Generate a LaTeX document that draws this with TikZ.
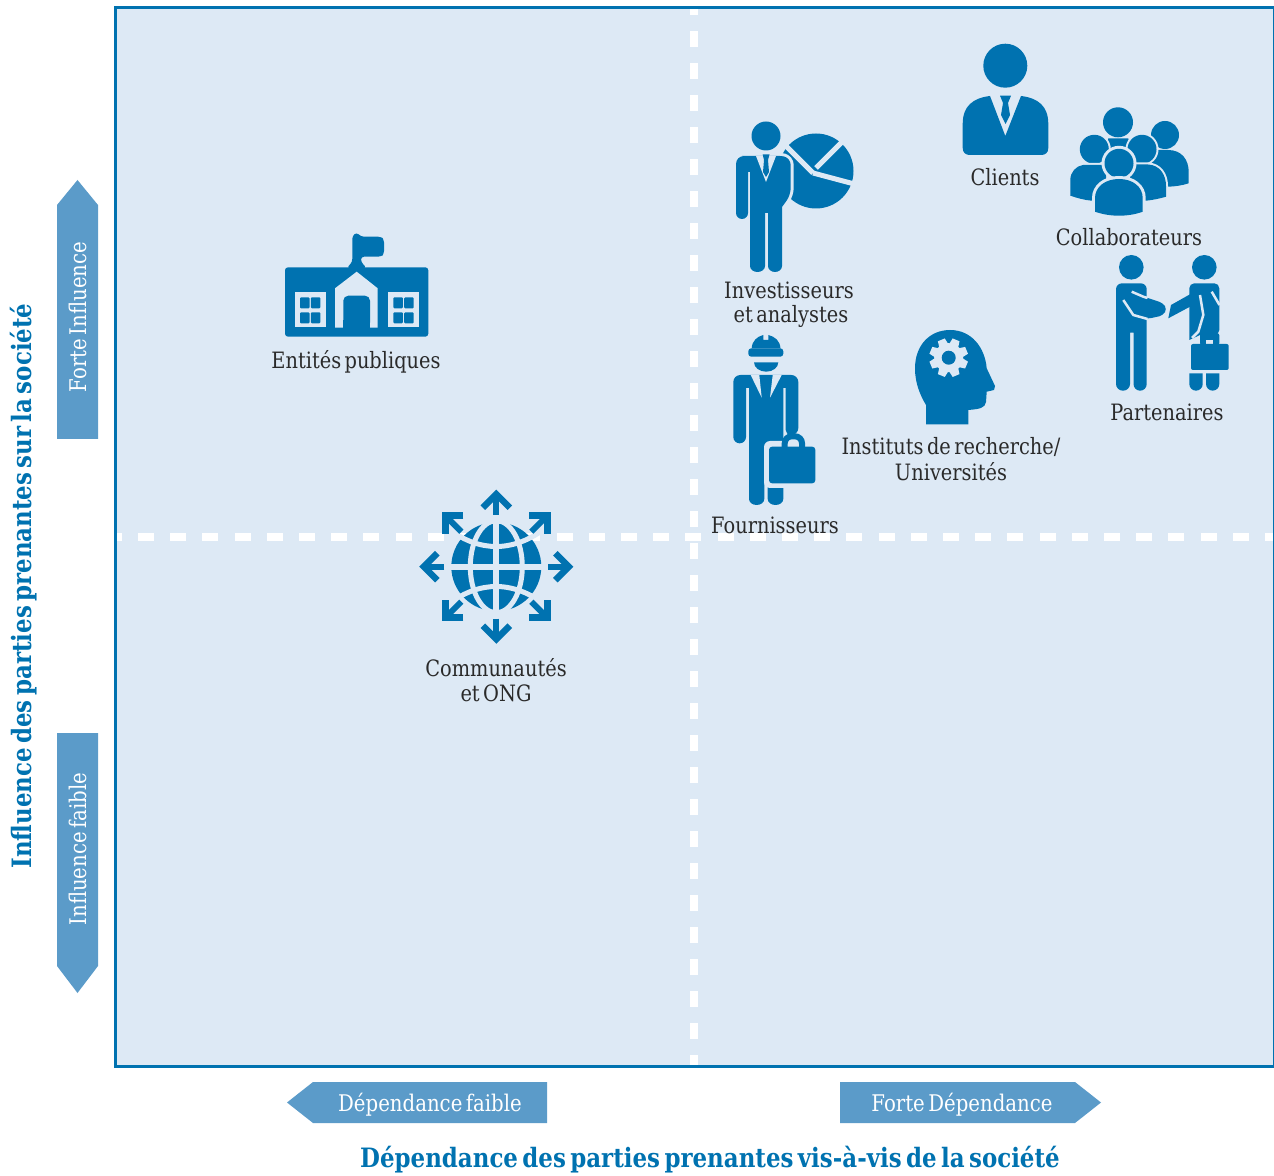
\documentclass[tikz,border=0pt]{standalone}
\usepackage{fontspec}
\setmainfont[FakeStretch=0.86,WordSpace=0.55]{DejaVu Serif}
\newdimen\pxu \pxu=0.75pt
\definecolor{iconblue}{HTML}{0072B0}
\definecolor{panel}{HTML}{DDE9F5}
\definecolor{arrowblue}{HTML}{5B9BC9}
\definecolor{labeltext}{HTML}{2A2A2A}
\tikzset{
  icon/.style={fill=iconblue,draw=none},
  gap/.style={draw=panel,line width=#1\pxu},
  gap/.default=3,
  cut/.style={fill=panel,draw=none},
  halo/.style={preaction={draw=panel,line width=#1\pxu}},
  halo/.default=6,
  stake/.style={font=\fontsize{16.9pt}{19pt}\selectfont,text=labeltext,inner sep=0pt,align=center},
  axislabel/.style={font=\fontsize{20pt}{24pt}\selectfont\bfseries,text=iconblue,inner sep=0pt},
  sidelabel/.style={font=\fontsize{17.2pt}{19pt}\selectfont,text=white,inner sep=0pt},
  band/.style={fill=arrowblue,draw=none},
  quadh/.style={draw=white,line width=8\pxu,dash pattern=on 16\pxu off 16.2\pxu},
  quadv/.style={draw=white,line width=8\pxu,dash pattern=on 16\pxu off 16\pxu},
  garrow/.style={draw=iconblue,line width=6\pxu,miter limit=10},
  ghead/.style={draw=iconblue,line width=6.5\pxu,miter limit=10}
}
\begin{document}
\begin{tikzpicture}[x=0.75pt,y=-0.75pt]
\useasboundingbox (0,0) rectangle (1274,1176);
% panel
\fill[panel] (115,8) rectangle (1274,1066);
\begin{scope}
\clip (117,9) rectangle (1273,1065);
\draw[quadh] (105.8,536.7) -- (1276,536.7);
\draw[quadv] (693.8,-0.7) -- (693.8,1066);
\end{scope}
\draw[iconblue,line width=3\pxu] (115.3,7.4) rectangle (1274.5,1066.3);
% side arrows
\fill[band] (57,439) -- (57,205) -- (77.5,180) -- (98,205) -- (98,439) -- cycle;
\fill[band] (57,733) -- (57,966) -- (77.5,993) -- (98,966) -- (98,733) -- cycle;
\fill[band] (547,1082) -- (313,1082) -- (287,1102.5) -- (313,1123) -- (547,1123) -- cycle;
\fill[band] (840,1082) -- (1075,1082) -- (1101,1102.5) -- (1075,1123) -- (840,1123) -- cycle;
\node[sidelabel,rotate=90] (forte) at (78,317) {Forte Influence};
\node[sidelabel,rotate=90] (faible) at (78,849) {Influence faible};
\node[sidelabel] (depf) at (430,1104.5) {Dépendance faible};
\node[sidelabel] (depF) at (962,1104.5) {Forte Dépendance};
\node[axislabel,rotate=90] (yaxis) at (24,586) {Influence des parties prenantes sur la société};
\node[axislabel] (xaxis) at (710,1159.5) {Dépendance des parties prenantes vis-à-vis de la société};
% school
\fill[icon,rounded corners=3\pxu] (285,267.3) rectangle (428.3,336.7);
\fill[icon,rounded corners=3\pxu] (346.7,268) -- (352.3,262) -- (352.3,236) -- (356.6,232.3) -- (361,236.7) -- (381,236.7) -- (384,239.5) -- (384,254) -- (381,256.7) -- (361,256.7) -- (361,262) -- (366.7,268) -- cycle;
\fill[cut] (335,327.7) -- (335,288.3) -- (356.7,271.7) -- (377.7,288.3) -- (377.7,327.7) -- cycle;
\fill[icon,rounded corners=5\pxu] (343.3,327.7) -- (343.3,295.7) -- (370,295.7) -- (370,327.7) [sharp corners] -- cycle;
\fill[icon] (343.3,320) rectangle (370,328);
\fill[cut] (295,292.3) rectangle (325.7,326.7);
\fill[cut] (387.7,292.3) rectangle (418.7,326.7);
\foreach \wx in {300,310.9,393.3,404.2}{
  \foreach \wy in {297.3,312.3}{
    \fill[icon,rounded corners=1\pxu] (\wx,\wy) rectangle ++(9.5,11);
  }
}
\node[stake] (publiques) at (356,362) {Entités publiques};
% investor
\fill[icon] (816,171) circle (37.5);
\draw[gap=5] (813,173) -- (780,140);
\draw[gap=5] (813,173) -- (858,185);
\draw[gap=5] (816,168) -- (846,138);
\fill[icon] (766,136) circle (14.5);
\fill[icon,halo=6] (736,213) [rounded corners=8\pxu] -- (736,156) -- (750,156) [rounded corners=2\pxu] -- (782,156) [rounded corners=7\pxu] -- (790.7,158) -- (790.7,195) [sharp corners] -- (782,207) -- (782,266) arc (0:180:7 and 6) -- (768,213) -- (765,213) -- (765,266) arc (0:180:7.5 and 6) -- (750,172) -- (748,172) -- (748,213) arc (0:180:6 and 6) -- cycle;
\fill[cut] (756,156) -- (766,182) -- (776,156) -- cycle;
\fill[icon] (762.7,154.5) -- (769.5,154.5) -- (768,160) -- (769,172) -- (766,177) -- (763,172) -- (764,160) -- cycle;
\node[stake] (investisseurs) at (789,290.5) {Investisseurs};
\node[stake] (analystes) at (791,316) {et analystes};
% client
\fill[icon] (1005.3,65.7) circle (22);
\fill[icon] (990,96) -- (1005.3,136) -- (1021,96) .. controls (1038,98) and (1048.3,106) .. (1048.3,124) -- (1048.3,148) .. controls (1048.3,153) and (1045,155) .. (1041,155) -- (970,155) .. controls (966,155) and (962.7,153) .. (962.7,148) -- (962.7,124) .. controls (962.7,106) and (973,98) .. (990,96) -- cycle;
\fill[icon] (1000,95.7) -- (1011,95.7) -- (1008,103) -- (1010,115) -- (1005.5,124) -- (1001,115) -- (1003,103) -- cycle;
\node[stake] (clients) at (1005,177) {Clients};
% team
\fill[icon] (1118,122.3) circle (15);
\fill[icon] (1108.3,138.3) -- (1128.3,138.3) -- (1132,155) -- (1105,155) -- cycle;
\fill[icon] (1165,135) circle (14);
\fill[icon] (1150,150) -- (1168,150) .. controls (1182,150) and (1188.7,160) .. (1188.7,172) -- (1188.7,183.3) .. controls (1182,185.5) and (1175,186.5) .. (1168,186.7) -- (1150,186) -- cycle;
\fill[icon,halo=4] (1142,149.3) circle (14.5);
\fill[icon,halo=4] (1130,164.5) -- (1148,164.5) .. controls (1160,165) and (1166,175) .. (1166,186) -- (1166,196.7) .. controls (1160,198.5) and (1153,200) .. (1146,200.7) -- (1130,200) -- cycle;
\fill[icon,halo=4] (1094.3,149.3) circle (14.5);
\fill[icon,halo=4] (1083,165) -- (1106,165) -- (1106,200) -- (1091.7,200.7) .. controls (1084,200) and (1077,198) .. (1070.3,195.7) -- (1070.3,180) .. controls (1070.3,172) and (1076,166) .. (1083,165) -- cycle;
\fill[icon,halo=6] (1119,163.3) circle (14.5);
\fill[icon,halo=6] (1095,211.7) -- (1095,198) .. controls (1095,187) and (1105,179) .. (1119,179) .. controls (1133,179) and (1142.7,187) .. (1142.7,198) -- (1142.7,211.7) .. controls (1135,214.5) and (1127,215.7) .. (1119,215.7) .. controls (1111,215.7) and (1103,214.5) .. (1095,211.7) -- cycle;
\node[stake] (collab) at (1129,237) {Collaborateurs};
% partners
\fill[icon] (1131.3,267.3) circle (12.3);
\fill[icon] (1204.3,267.3) circle (12.3);
\fill[icon,rounded corners=6\pxu] (1116,384) -- (1116,283.3) -- (1146.7,283.3) [sharp corners] -- (1146.7,384) arc (0:180:6.6 and 6.7) -- (1133.5,332.7) -- (1130,332.7) -- (1130,384) arc (0:180:7 and 6.7) -- cycle;
\fill[icon,rounded corners=4\pxu] (1131.7,291.7) -- (1144,296.7) -- (1163,303) -- (1167,309) -- (1163,315.5) -- (1146.7,319) -- (1133.3,315) -- cycle;
\draw[gap=2.5] (1123.3,300) -- (1133.3,315) -- (1147.5,319);
\draw[gap=2.5] (1131.7,291.7) -- (1143.3,296.7) -- (1147.5,298);
\fill[icon,rounded corners=5\pxu] (1189.3,340) -- (1189.3,283.3) -- (1219.3,283.3) -- (1219.3,335) [sharp corners] -- (1200,335) -- cycle;
\fill[icon] (1190,294.3) -- (1171,305) -- (1168.3,318.3) -- (1190,306.7) -- cycle;
\draw[gap=2.5] (1200,295) -- (1203.3,315) -- (1198.3,331.7) -- (1192,338);
\draw[gap=2.5] (1211.7,291.7) -- (1219.5,305);
\fill[icon] (1189.3,373.3) -- (1202.7,373.3) -- (1202.7,384) arc (0:180:6.7) -- cycle;
\fill[icon] (1206,373.3) -- (1219.3,373.3) -- (1219.3,384) arc (0:180:6.65) -- cycle;
\fill[icon,rounded corners=2\pxu] (1200,345) -- (1200,333.3) -- (1219.3,333.3) -- (1219.3,345) -- cycle;
\fill[cut] (1206,340) rectangle (1213.3,345);
\fill[icon,rounded corners=2\pxu] (1191,344) rectangle (1228.7,370);
\node[stake] (partenaires) at (1167,412) {Partenaires};
% supplier
\fill[icon] (751.7,348.3) .. controls (752,341) and (757,336.5) .. (763.3,335) -- (763.3,340) -- (768.3,340) -- (768.3,335) .. controls (775,336.5) and (780,341) .. (780.5,348.3) -- cycle;
\fill[icon,rounded corners=3\pxu] (748.3,348.3) rectangle (783.3,356.7);
\fill[icon] (754,362.3) -- (778.3,362.3) arc (0:180:12.15 and 9.4) -- cycle;
\fill[icon,rounded corners=7\pxu] (733.3,437) -- (733.3,375) -- (798.3,375) -- (798.3,435) [rounded corners=5\pxu] -- (785.7,435) [sharp corners] -- (785.7,388) -- (783.3,388) -- (783.3,499) arc (0:180:7.8 and 6) -- (767.7,470) -- (764.3,470) -- (764.3,499) arc (0:180:7.65 and 6) -- (749,388) -- (746,388) -- (746,437) arc (0:180:6.35) -- cycle;
\fill[cut] (750.7,375) -- (759.3,375) -- (761.7,397.7) -- cycle;
\fill[cut] (781.7,375) -- (772.7,375) -- (770,397.7) -- cycle;
\fill[cut,rounded corners=6\pxu] (764,441) rectangle (820,488);
\draw[iconblue,line width=6\pxu,rounded corners=7\pxu] (784.7,449) -- (784.7,436.3) -- (802,436.3) -- (802,449);
\fill[icon,rounded corners=3\pxu] (769,446.7) rectangle (815.3,483.3);
\node[stake] (fourn) at (775,525) {Fournisseurs};
% head
\fill[icon] (926,424.3) -- (926,405) .. controls (920,395) and (915,383) .. (915,368.3) .. controls (915,345) and (930,330) .. (950,330) .. controls (972,330) and (985,348) .. (986.7,368.3) -- (995,386) -- (994,390) -- (986.7,391.7) -- (986,402) .. controls (985,408) and (980,409) .. (968.3,410) -- (968.3,424.3) -- cycle;
\foreach \t in {0,45,...,315}{
  \fill[cut,shift={(948.7,357.7)},rotate=\t+22.5] (-3.7,-19.3) -- (3.7,-19.3) -- (5,-12) -- (-5,-12) -- cycle;
}
\fill[cut] (948.7,357.7) circle (14.5);
\fill[icon] (948.7,357.7) circle (7);
\node[stake] (inst) at (951,447) {Instituts de recherche/};
\node[stake] (univ) at (951,472) {Universités};
% globe
\fill[icon] (496.3,566.7) ellipse (45 and 44.5);
\draw[gap=6] (496.3,515) -- (496.3,618);
\draw[gap=6] (445,566.7) -- (548,566.7);
\draw[gap=5] (496.3,566.7) ellipse (26 and 46);
\draw[gap=5] (450,530) .. controls (480,552) and (512,552) .. (543,530);
\draw[gap=5] (450,603) .. controls (480,581) and (512,581) .. (543,603);
\foreach \a/\b in {1/-1,-1/-1,1/1,-1/1}{
  \draw[garrow] ({496.3+\a*35},{566.7+\b*35}) -- ({496.3+\a*49},{566.7+\b*49});
  \draw[ghead] ({496.3+\a*33},{566.7+\b*51}) -- ({496.3+\a*51},{566.7+\b*51}) -- ({496.3+\a*51},{566.7+\b*33});
}
\foreach \a/\b in {0/-1,0/1,1/0,-1/0}{
  \draw[garrow] ({496.3+\a*52},{566.7+\b*52}) -- ({496.3+\a*72},{566.7+\b*72});
  \draw[ghead] ({496.3+\a*59+\b*13.5},{566.7+\b*59-\a*13.5}) -- ({496.3+\a*72.5},{566.7+\b*72.5}) -- ({496.3+\a*59-\b*13.5},{566.7+\b*59+\a*13.5});
}
\node[stake] (comm) at (496,668) {Communautés};
\node[stake] (ong) at (496,693) {et ONG};
\end{tikzpicture}
\end{document}
